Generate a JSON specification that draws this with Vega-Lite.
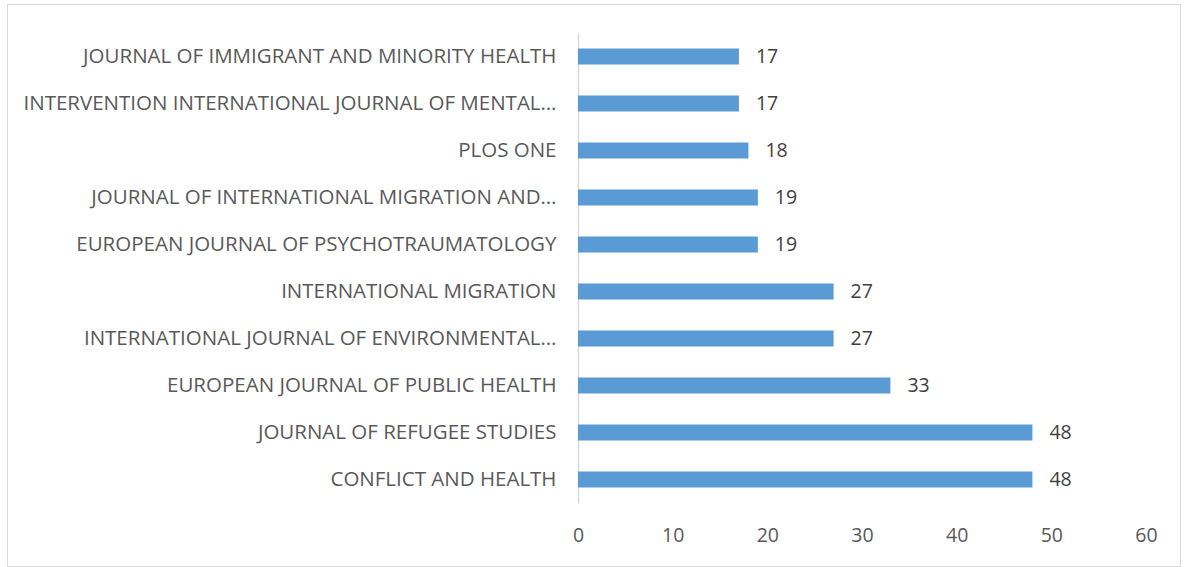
{
  "$schema": "https://vega.github.io/schema/vega-lite/v6.json",
  "width": 1173,
  "height": 562,
  "autosize": "none",
  "padding": {"left": 7, "top": 4, "right": 4, "bottom": 1},
  "background": "white",
  "config": {"view": {"stroke": "#d9d9d9", "strokeWidth": 1}, "font": "Open Sans"},
  "data": {"values": [
    {"journal": "JOURNAL OF IMMIGRANT AND MINORITY HEALTH", "count": 17},
    {"journal": "INTERVENTION INTERNATIONAL JOURNAL OF MENTAL…", "count": 17},
    {"journal": "PLOS ONE", "count": 18},
    {"journal": "JOURNAL OF INTERNATIONAL MIGRATION AND…", "count": 19},
    {"journal": "EUROPEAN JOURNAL OF PSYCHOTRAUMATOLOGY", "count": 19},
    {"journal": "INTERNATIONAL MIGRATION", "count": 27},
    {"journal": "INTERNATIONAL JOURNAL OF ENVIRONMENTAL…", "count": 27},
    {"journal": "EUROPEAN JOURNAL OF PUBLIC HEALTH", "count": 33},
    {"journal": "JOURNAL OF REFUGEE STUDIES", "count": 48},
    {"journal": "CONFLICT AND HEALTH", "count": 48}
  ]},
  "encoding": {
    "y": {"field": "journal", "type": "nominal", "sort": null,
      "scale": {"range": [29, 499], "paddingInner": 0.66, "paddingOuter": 0.33},
      "axis": {"title": null, "orient": "left", "offset": -571, "ticks": false,
        "domainColor": "#d9d9d9", "domainWidth": 1.5, "labelPadding": 22,
        "labelFontSize": 20.5, "labelColor": "#595959", "labelLimit": 600, "grid": false}},
    "x": {"field": "count", "type": "quantitative",
      "scale": {"domain": [0, 60], "range": [571, 1139], "nice": false},
      "axis": {"title": null, "orient": "bottom", "offset": -40, "values": [0,10,20,30,40,50,60],
        "domain": false, "ticks": false, "grid": false, "labelPadding": 0, "labelFlush": false,
        "labelFontSize": 19.5, "labelColor": "#595959", "labelBaseline": "top"}}
  },
  "layer": [
    {"mark": {"type": "bar", "color": "#5b9bd5"}},
    {"mark": {"type": "text", "align": "left", "dx": 17, "fontSize": 19.5, "color": "#404040"},
     "encoding": {"text": {"field": "count", "type": "quantitative"}}}
  ]
}
